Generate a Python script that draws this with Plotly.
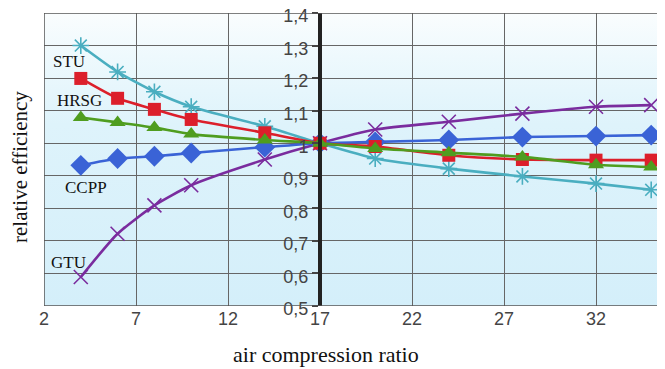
import base64
import plotly.graph_objects as go

# ---- data ----
ratio = [4, 6, 8, 10, 14, 17, 20, 24, 28, 32, 35]
stu   = [1.300, 1.219, 1.158, 1.112, 1.052, 1.000, 0.953, 0.922, 0.898, 0.876, 0.857]
hrsg  = [1.199, 1.138, 1.104, 1.073, 1.032, 1.000, 0.990, 0.963, 0.950, 0.948, 0.948]
green = [1.079, 1.064, 1.048, 1.028, 1.010, 1.000, 0.984, 0.971, 0.958, 0.934, 0.927]
ccpp  = [0.932, 0.953, 0.960, 0.970, 0.988, 1.000, 1.004, 1.010, 1.019, 1.022, 1.025]
gtu   = [0.589, 0.722, 0.809, 0.871, 0.950, 1.000, 1.042, 1.066, 1.091, 1.112, 1.117]

x_ticks = [2, 7, 12, 17, 22, 27, 32]
y_ticks = [0.5, 0.6, 0.7, 0.8, 0.9, 1.0, 1.1, 1.2, 1.3, 1.4]
y_tick_text = ["0,5", "0,6", "0,7", "0,8", "0,9", "1", "1,1", "1,2", "1,3", "1,4"]

labels = ["STU", "HRSG", "CCPP", "GTU"]
label_x = [3.35, 3.95, 4.3, 3.35]
label_y = [1.25, 1.132, 0.865, 0.634]

X_MIN, X_MAX = 2, 35.75
Y_MIN, Y_MAX = 0.5, 1.4

W, H = 657, 361  # page body has an 8px margin
ML, MT, MB, MR = 36, 5, 63, 0
PW = W - ML - MR
PH = H - MT - MB

fig = go.Figure()

# background gradient as an SVG image (white at top to light cyan)
svg = ('<svg xmlns="http://www.w3.org/2000/svg" width="100" height="100" preserveAspectRatio="none">'
       '<defs><linearGradient id="g" x1="0" y1="0" x2="0" y2="1">'
       '<stop offset="0" stop-color="rgb(250,253,254)"/>'
       '<stop offset="0.15" stop-color="rgb(238,249,253)"/>'
       '<stop offset="0.38" stop-color="rgb(222,243,251)"/>'
       '<stop offset="1" stop-color="rgb(212,239,250)"/>'
       '</linearGradient></defs><rect width="100" height="100" fill="url(#g)"/></svg>')
bg_src = "data:image/svg+xml;base64," + base64.b64encode(svg.encode()).decode()
fig.add_layout_image(source=bg_src, xref="x", yref="y", x=X_MIN, y=Y_MAX,
                     sizex=X_MAX - X_MIN, sizey=Y_MAX - Y_MIN, sizing="stretch",
                     xanchor="left", yanchor="top", layer="below")

def add(y, color, symbol, size, lw=2.6, mlw=0):
    fig.add_trace(go.Scatter(
        x=ratio, y=y, mode="lines+markers",
        line=dict(color=color, width=lw, shape="spline", smoothing=0.6),
        marker=dict(symbol=symbol, size=size, color=color,
                    line=dict(color=color, width=mlw)),
        showlegend=False, cliponaxis=False))

add(stu, "#4aaec0", "asterisk-open", 14, mlw=1.6)
add(gtu, "#7a2c9e", "x-thin-open", 14, mlw=1.6)
add(ccpp, "#3a63d6", "diamond", 16)
add(hrsg, "#dc1f2b", "square", 13)
add(green, "#4f9d1f", "triangle-up", 14)

for t, lx, ly in zip(labels, label_x, label_y):
    fig.add_annotation(x=lx, y=ly, text=t, showarrow=False, xref="x", yref="y",
                       font=dict(family="Liberation Serif", size=17, color="#111"))

# frame
fig.add_shape(type="rect", xref="x", yref="y", x0=X_MIN, x1=X_MAX + 1, y0=Y_MIN, y1=Y_MAX,
              line=dict(color="#555", width=1.5), layer="above")

fig.update_layout(
    width=W, height=H,
    margin=dict(l=ML, r=MR, t=MT, b=MB, autoexpand=False),
    paper_bgcolor="white", plot_bgcolor="white",
    xaxis=dict(range=[X_MIN, X_MAX], tickvals=x_ticks, ticktext=[str(v) for v in x_ticks],
               showgrid=True, gridcolor="#666", gridwidth=1, zeroline=False,
               showline=False, ticks="", ticklen=0, automargin=False,
               tickfont=dict(family="Liberation Sans", size=18, color="#444")),
    yaxis=dict(range=[Y_MIN, Y_MAX], tickvals=y_ticks, ticktext=y_tick_text,
               anchor="free", position=(17 - X_MIN) / (X_MAX - X_MIN),
               showgrid=True, gridcolor="#666", gridwidth=1, zeroline=False,
               showline=True, linecolor="#222", linewidth=4, automargin=False,
               ticks="outside", ticklen=6, tickwidth=1.5, tickcolor="#444",
               ticklabeloverflow="allow", ticklabelshift=3,
               tickfont=dict(family="Liberation Sans", size=18, color="#444")),
)

fig.add_annotation(xref="paper", yref="paper", x=(318 - ML) / PW, y=-48 / PH,
                   text="air compression ratio", showarrow=False,
                   xanchor="center", yanchor="middle",
                   font=dict(family="Liberation Serif", size=22, color="#111"))

fig.add_annotation(xref="paper", yref="paper", x=-24 / PW, y=1 - (159 - MT) / PH,
                   text="relative efficiency", textangle=-90, showarrow=False,
                   xanchor="center", yanchor="middle",
                   font=dict(family="Liberation Serif", size=21, color="#111"))

fig.write_html("out.html")
